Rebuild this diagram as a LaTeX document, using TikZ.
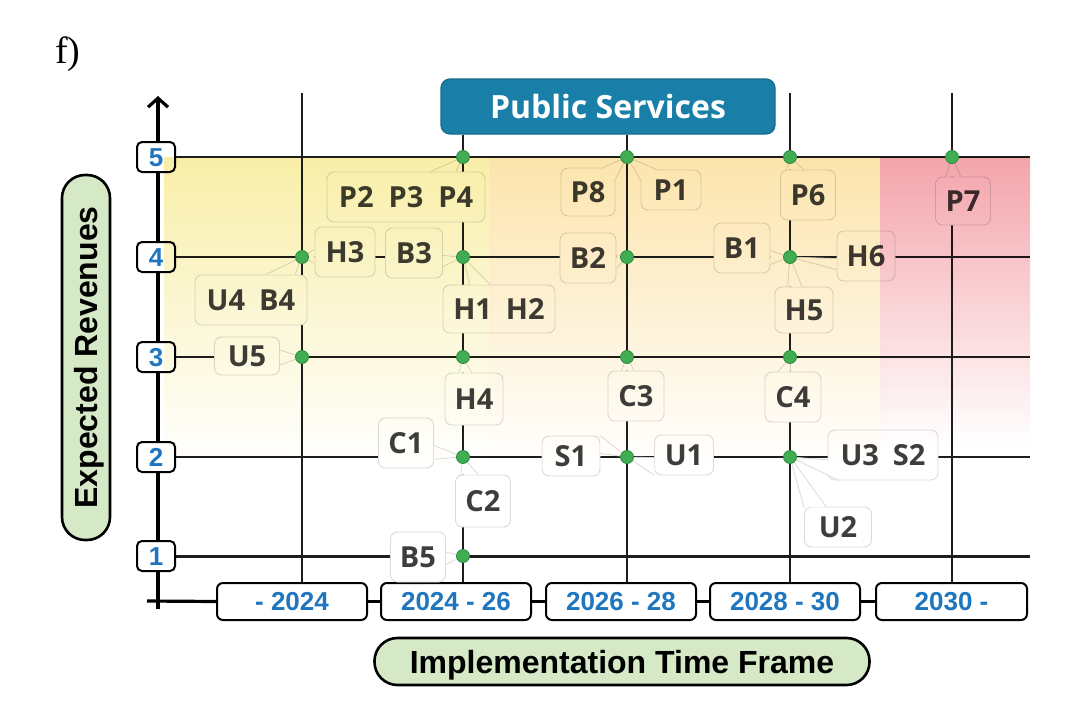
\documentclass[tikz,border=0pt]{standalone}
\usepackage{fontspec}
\setmainfont{Liberation Sans}
\newfontfamily\osfont{Open Sans}
\newfontfamily\seriffont{Liberation Serif}
\usetikzlibrary{arrows.meta,calc}
\definecolor{gridc}{HTML}{1E1E1E}
\definecolor{nblue}{HTML}{1F76BF}
\definecolor{psblue}{HTML}{1A7FA8}
\definecolor{psborder}{HTML}{146B8E}
\definecolor{tgreen}{HTML}{D5E9C6}
\definecolor{ylw}{HTML}{F8EEA8}
\definecolor{pch}{HTML}{FCE4AC}
\definecolor{pnk}{HTML}{F3A4AB}
\definecolor{dotc}{HTML}{41AD53}
\definecolor{dotb}{HTML}{2A8A3C}
\newcommand\calltail[4]{%
  \fill[white] (#1.#2) -- (#4) -- (#1.#3) -- cycle;
  \draw[tailline] (#1.#2) -- (#4) -- (#1.#3);}
\begin{document}
\begin{tikzpicture}[x=1pt,y=-1pt,
  gridline/.style={draw=gridc,line width=2.4pt},
  axisline/.style={draw=black,line width=3.2pt},
  lbl/.style={draw=black!14,line width=0.9pt,fill=white,rounded corners=7pt,
    inner sep=0pt,text=black!76,font=\osfont\bfseries\fontsize{29}{32}\selectfont,
    text height=20.7pt,text depth=0pt},
  tailline/.style={draw=black!14,line width=0.8pt},
  nbox/.style={draw=black,line width=2pt,fill=white,rounded corners=5pt,
    minimum width=38pt,minimum height=30pt,inner sep=0pt,text=nblue,
    font=\bfseries\fontsize{26}{28}\selectfont,text height=18.6pt,text depth=0pt},
  tbox/.style={draw=black,line width=2pt,fill=white,rounded corners=6pt,
    minimum width=150pt,minimum height=37pt,inner sep=0pt,text=nblue,
    font=\bfseries\fontsize{26}{28}\selectfont,text height=18.6pt,text depth=0pt},
  titlebox/.style={draw=black,line width=2.6pt,fill=tgreen,rounded corners=23pt,
    inner sep=0pt,font=\bfseries\fontsize{32}{34}\selectfont,text height=23pt,text depth=0pt},
  dot/.style={fill=dotc,draw=dotb,line width=0.8pt}
]
\useasboundingbox[fill=white] (0,0) rectangle (1080,726);

% grid coordinates
\foreach \c/\x in {a/302,b/463,c/627,d/790,e/952}{
  \foreach \r/\y in {1/556,2/457,3/357,4/257,5/157}{
    \coordinate (\c\r) at (\x,\y);}
  \coordinate (top\c) at (\x,93);}
\foreach \r/\y in {1/556,2/457,3/357,4/257,5/157}{\coordinate (right\r) at (1030,\y);}
\coordinate (xleft) at (147,601);
\coordinate (ybot) at (158,609);
\coordinate (ytop) at (158,96);

% title
\node[font=\seriffont\fontsize{38}{40}\selectfont,anchor=base west,inner sep=0pt] (flabel) at (55,63) {f)};

% boxes that anchor lines
\node[draw=psborder,line width=1.2pt,fill=psblue,rounded corners=9pt,minimum width=334pt,
  minimum height=55pt,inner sep=0pt,text=white,font=\osfont\bfseries\fontsize{32}{34}\selectfont,
  text height=23pt,text depth=0pt] (PS) at (608,106.5) {Public Services};

\node[tbox] (T1) at (292,601.5) {- 2024};
\node[tbox] (T2) at (456,601.5) {2024 - 26};
\node[tbox] (T3) at (621,601.5) {2026 - 28};
\node[tbox] (T4) at (785,601.5) {2028 - 30};
\node[tbox,minimum width=151pt] (T5) at (951.5,601.5) {2030 -};

% axes
\draw[axisline] (xleft) -- (T1.west);
\foreach \i/\j in {T1/T2,T2/T3,T3/T4,T4/T5}{\draw[axisline,line width=2.4pt] (\i.east) -- (\j.west);}
\draw[axisline,-{Straight Barb[length=9pt,width=20pt]}] (ybot) -- (ytop);

\node[nbox] (n5) at (156,157) {5};
\node[nbox] (n4) at (156,257) {4};
\node[nbox] (n3) at (156,357) {3};
\node[nbox] (n2) at (156,457) {2};
\node[nbox] (n1) at (156,556) {1};

% grid lines
\foreach \r in {2,3,4,5}{\draw[gridline] (n\r.east) -- (right\r);}
\draw[gridline,line width=3pt] (n1.east) -- (right1);
\draw[gridline] (topa) -- (topa |- T1.north);
\draw[gridline] (PS.south -| b5) -- (b5 |- T2.north);
\draw[gridline] (PS.south -| c5) -- (c5 |- T3.north);
\draw[gridline] (topd) -- (topd |- T4.north);
\draw[gridline] (tope) -- (tope |- T5.north);

% axis titles
\node[titlebox,rotate=90,minimum width=365pt,minimum height=48pt] (ER) at (86,357.5) {Expected Revenues};
\node[titlebox,minimum width=495pt,minimum height=47pt] (IT) at (622,661.5) {Implementation Time Frame};

% labels
\node[lbl,minimum width=158pt,minimum height=50pt] (P234) at (406,197) {P2\hspace{15pt}P3\hspace{15pt}P4};
\node[lbl,minimum width=54pt,minimum height=48pt] (P8) at (588,192) {P8};
\node[lbl,minimum width=60pt,minimum height=40pt] (P1) at (671,190) {P1};
\node[lbl,minimum width=55pt,minimum height=50pt] (P6) at (808,195) {P6};
\node[lbl,minimum width=55pt,minimum height=48pt] (P7) at (963,201) {P7};
\node[lbl,minimum width=60pt,minimum height=50pt] (H3) at (345,252) {H3};
\node[lbl,minimum width=57pt,minimum height=50pt] (B3) at (414,253) {B3};
\node[lbl,minimum width=56pt,minimum height=50pt] (B2) at (588,258) {B2};
\node[lbl,minimum width=56pt,minimum height=50pt] (B1) at (742,248) {B1};
\node[lbl,minimum width=58pt,minimum height=50pt] (H6) at (866,256) {H6};
\node[lbl,minimum width=112pt,minimum height=50pt] (U4B4) at (251,300) {U4\hspace{14pt}B4};
\node[lbl,minimum width=112pt,minimum height=48pt] (H1H2) at (499,309) {H1\hspace{14pt}H2};
\node[lbl,minimum width=58pt,minimum height=46pt] (H5) at (804,310) {H5};
\node[lbl,minimum width=65pt,minimum height=38pt] (U5) at (247,356) {U5};
\node[lbl,minimum width=58pt,minimum height=52pt] (H4) at (474,399) {H4};
\node[lbl,minimum width=56pt,minimum height=50pt] (C3) at (636,396) {C3};
\node[lbl,minimum width=56pt,minimum height=50pt] (C4) at (793,397) {C4};
\node[lbl,minimum width=55pt,minimum height=50pt] (C1) at (406,443) {C1};
\node[lbl,minimum width=58pt,minimum height=40pt] (S1) at (571,456) {S1};
\node[lbl,minimum width=59pt,minimum height=40pt] (U1) at (684,455) {U1};
\node[lbl,minimum width=110pt,minimum height=50pt] (U3S2) at (883,455) {U3\hspace{14pt}S2};
\node[lbl,minimum width=55pt,minimum height=52pt] (C2) at (483,501) {C2};
\node[lbl,minimum width=67pt,minimum height=40pt] (U2) at (838,527) {U2};
\node[lbl,minimum width=55pt,minimum height=50pt] (B5) at (418,557) {B5};

% callout tails
\calltail{P234}{46}{27}{b5}
\calltail{P8}{58}{25}{c5}
\calltail{P1}{162}{125}{c5}
\calltail{P6}{130}{100}{d5}
\calltail{P7}{125}{95}{e5}
\calltail{H3}{175}{200}{a4}
\calltail{U4B4}{60}{30}{a4}
\calltail{B3}{-5}{-25}{b4}
\calltail{H1H2}{110}{140}{b4}
\calltail{B2}{5}{-20}{c4}
\calltail{B1}{-5}{-30}{d4}
\calltail{H6}{185}{205}{d4}
\calltail{H5}{95}{125}{d4}
\calltail{U5}{10}{-15}{a3}
\calltail{H4}{120}{95}{b3}
\calltail{C3}{120}{95}{c3}
\calltail{C4}{120}{95}{d3}
\calltail{C1}{-5}{-30}{b2}
\calltail{C2}{130}{100}{b2}
\calltail{S1}{35}{5}{c2}
\calltail{U1}{185}{215}{c2}
\calltail{U3S2}{185}{210}{d2}
\calltail{U2}{150}{120}{d2}
\calltail{B5}{10}{-15}{b1}

% colour zones (multiplied over everything drawn so far)
\begin{scope}[blend mode=multiply]
  \shade[top color=ylw,middle color=ylw,bottom color=white] (164,157) rectangle (490,466);
  \shade[top color=pch,middle color=pch,bottom color=white] (490,157) rectangle (880,466);
  \shade[top color=pnk,middle color=pnk,bottom color=white] (880,157) rectangle (1030,446);
\end{scope}

% dots
\foreach \d in {b5,c5,d5,e5,a4,b4,c4,d4,a3,b3,c3,d3,b2,c2,d2,b1}{\filldraw[dot] (\d) circle (6.5pt);}
\end{tikzpicture}
\end{document}
